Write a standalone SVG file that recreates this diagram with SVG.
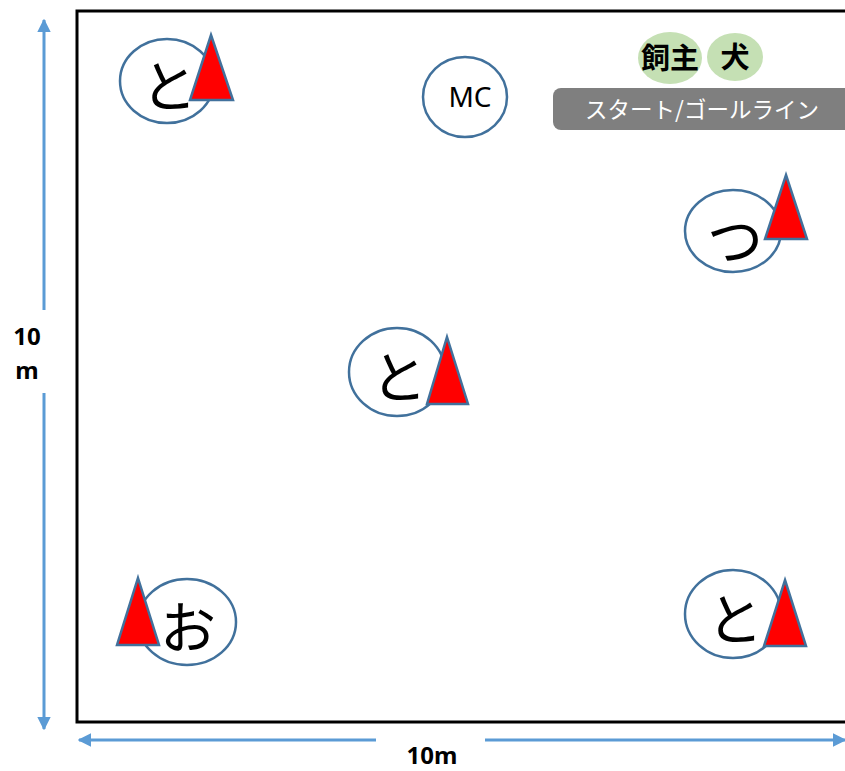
<svg xmlns="http://www.w3.org/2000/svg" width="845" height="771" viewBox="0 0 845 771">
<defs>
<style>
.el{fill:#fff;stroke:#41719c;stroke-width:2.5}
.tri{fill:#ff0000;stroke:#41719c;stroke-width:2.5;stroke-linejoin:miter}
.kana{font-family:"Noto Sans CJK JP","Noto Sans",sans-serif;font-size:56px;fill:#000;text-anchor:middle;dominant-baseline:central}
.dim{stroke:#5b9bd5;stroke-width:3;fill:none}
.dimt{font-family:"Noto Sans","Noto Sans CJK JP",sans-serif;font-size:24px;font-weight:bold;fill:#000;text-anchor:middle}
</style>
<marker id="ah" viewBox="0 0 10 10" refX="9" refY="5" markerWidth="4.5" markerHeight="4.5" orient="auto-start-reverse" markerUnits="strokeWidth">
<path d="M0,0 L10,5 L0,10 Z" fill="#5b9bd5"/>
</marker>
</defs>
<rect width="845" height="771" fill="#fff"/>
<rect id="field" x="77" y="11" width="790" height="711" fill="none" stroke="#000" stroke-width="3"/>
<g id="connectors">
<line class="dim" x1="44" y1="310" x2="44" y2="20" marker-end="url(#ah)"/>
<line class="dim" x1="44" y1="393" x2="44" y2="729" marker-end="url(#ah)"/>
<line class="dim" x1="376" y1="740" x2="79" y2="740" marker-end="url(#ah)"/>
<line class="dim" x1="485" y1="740" x2="845" y2="740" marker-end="url(#ah)"/>
</g>
<g id="dim-labels">
<text class="dimt" x="27" y="345">10</text>
<text class="dimt" x="27" y="379">m</text>
<text class="dimt" x="432" y="764">10m</text>
</g>
<g id="node-to-1">
<ellipse class="el" cx="167" cy="81" rx="47" ry="42"/>
<text class="kana" x="169" y="82">と</text>
<polygon class="tri" points="211,35 233,100 190,100"/>
</g>
<g id="node-mc">
<ellipse class="el" cx="465" cy="97" rx="42" ry="40"/>
<text x="470" y="107" font-family="Noto Sans, sans-serif" font-size="28" text-anchor="middle" fill="#000">MC</text>
</g>
<g id="legend">
<ellipse cx="670" cy="58" rx="32" ry="26" fill="#c5e0b4"/>
<ellipse cx="735" cy="57" rx="28" ry="24" fill="#c5e0b4"/>
<text x="670" y="69" font-family="Noto Sans CJK JP, sans-serif" font-size="29" font-weight="bold" text-anchor="middle" fill="#000">飼主</text>
<text x="735" y="68" font-family="Noto Sans CJK JP, sans-serif" font-size="29" font-weight="bold" text-anchor="middle" fill="#000">犬</text>
<rect x="553" y="88" width="310" height="42" rx="8" fill="#7f7f7f"/>
<text x="702" y="118" font-family="Noto Sans CJK JP, sans-serif" font-size="22.5" text-anchor="middle" fill="#fff">スタート/ゴールライン</text>
</g>
<g id="node-tsu">
<ellipse class="el" cx="733" cy="231" rx="48" ry="41"/>
<text class="kana" x="735" y="236">つ</text>
<polygon class="tri" points="786,175 807,239 765,239"/>
</g>
<g id="node-to-2">
<ellipse class="el" cx="397" cy="372" rx="48" ry="44"/>
<text class="kana" x="399" y="373">と</text>
<polygon class="tri" points="447,337 468,404 427,404"/>
</g>
<g id="node-o">
<ellipse class="el" cx="187" cy="622" rx="49" ry="43"/>
<text class="kana" x="188" y="623">お</text>
<polygon class="tri" points="138,578 159,645 117,645"/>
</g>
<g id="node-to-3">
<ellipse class="el" cx="733" cy="614" rx="48" ry="44"/>
<text class="kana" x="735" y="615">と</text>
<polygon class="tri" points="785,580 806,646 764,646"/>
</g>
</svg>
